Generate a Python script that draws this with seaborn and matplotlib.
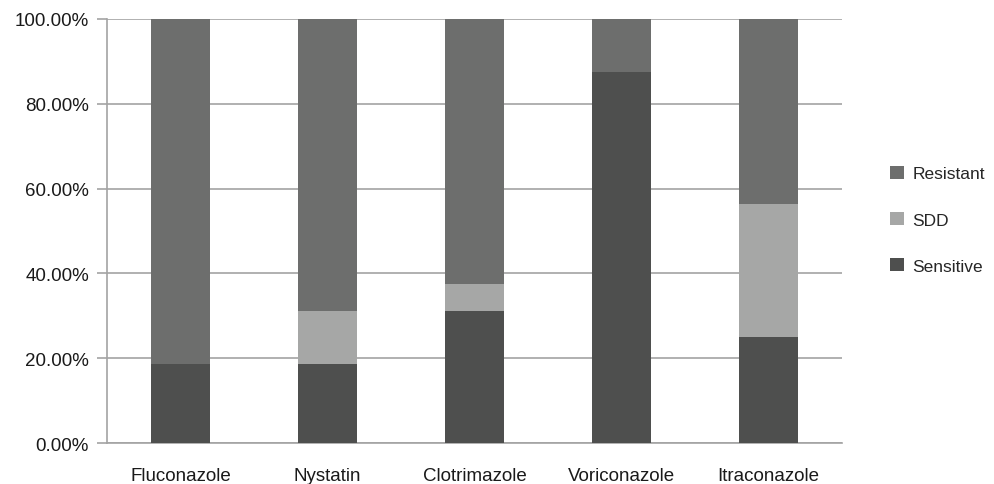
import seaborn as sns
import matplotlib.pyplot as plt
import pandas as pd
from matplotlib.patches import Patch
from matplotlib.ticker import FuncFormatter, FixedLocator

drugs = ['Fluconazole', 'Nystatin', 'Clotrimazole', 'Voriconazole', 'Itraconazole']
sensitive = [18.75, 18.75, 31.25, 87.5, 25.0]
sdd = [0.0, 12.5, 6.25, 0.0, 31.25]
resistant = [81.25, 68.75, 62.5, 12.5, 43.75]

colors = {'Resistant': '#6d6e6d', 'SDD': '#a6a7a6', 'Sensitive': '#4e4f4e'}
grid_gray = '#a3a3a3'

df = pd.DataFrame({'drug': drugs, 'Sensitive': sensitive, 'SDD': sdd,
                   'Resistant': resistant})
# cumulative tops, drawn from the tallest layer down
df['top_sdd'] = df['Sensitive'] + df['SDD']
df['top_res'] = df['top_sdd'] + df['Resistant']

sns.set_style('white')
plt.rcParams['font.family'] = ['Liberation Sans', 'DejaVu Sans']

fig = plt.figure(figsize=(9.94, 4.85), dpi=100)
ax = fig.add_axes([0.1076, 0.0845, 0.7395, 0.8743])

width = 0.4
sns.barplot(data=df, x='drug', y='top_res', color=colors['Resistant'],
            width=width, saturation=1, linewidth=0, ax=ax, zorder=3)
sns.barplot(data=df, x='drug', y='top_sdd', color=colors['SDD'],
            width=width, saturation=1, linewidth=0, ax=ax, zorder=3)
sns.barplot(data=df, x='drug', y='Sensitive', color=colors['Sensitive'],
            width=width, saturation=1, linewidth=0, ax=ax, zorder=3)

ax.set_xlim(-0.5, len(drugs) - 0.5)
ax.set_ylim(0, 100)
ax.set_yticks([0, 20, 40, 60, 80, 100])
ax.yaxis.set_major_formatter(FuncFormatter(lambda v, p: f'{v:.2f}%'))
ax.yaxis.grid(True, color=grid_gray, linewidth=1.2, zorder=0)
ax.set_axisbelow(True)

ax.xaxis.set_minor_locator(FixedLocator([i - 0.5 for i in range(len(drugs) + 1)]))
ax.tick_params(axis='x', which='major', length=0, pad=17, labelsize=13.5,
               labelcolor='#1a1a1a')
ax.tick_params(axis='x', which='minor', length=8, width=1.2, color=grid_gray,
               direction='out')
ax.tick_params(axis='y', length=7, width=1.2, color=grid_gray, pad=6,
               labelsize=13.5, labelcolor='#1a1a1a', left=True)

ax.set_xlabel('')
ax.set_ylabel('')
for side in ['top', 'right']:
    ax.spines[side].set_visible(False)
for side in ['left', 'bottom']:
    ax.spines[side].set_color(grid_gray)
    ax.spines[side].set_linewidth(1.2)

handles = [Patch(facecolor=colors[k], edgecolor='none', label=k)
           for k in ['Resistant', 'SDD', 'Sensitive']]
fig.legend(handles=handles, loc='center left', bbox_to_anchor=(0.888, 0.545),
           frameon=False, fontsize=12.5, handlelength=0.8, handleheight=0.8,
           handletextpad=0.5, labelspacing=1.75, borderaxespad=0)

fig.savefig('out.png', dpi=100)
